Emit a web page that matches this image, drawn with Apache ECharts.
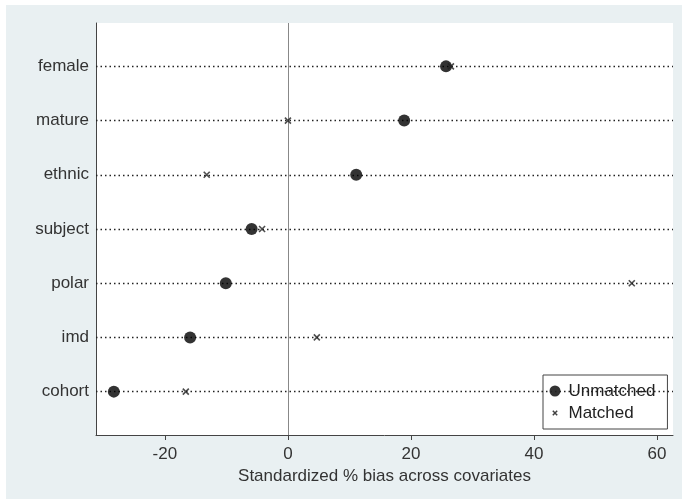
<!DOCTYPE html>
<html>
<head>
<meta charset="utf-8">
<script src="https://cdn.jsdelivr.net/npm/echarts@6/dist/echarts.min.js"></script>
<style>html,body{margin:0;padding:0;background:#fff}#c{width:682px;height:499px}</style>
</head>
<body>
<div id="c"></div>
<script>
// categories listed bottom to top
const categories = ['cohort', 'imd', 'polar', 'subject', 'ethnic', 'mature', 'female'];
const unmatched = [-28.3, -15.9, -10.1, -5.9, 11.1, 18.9, 25.7];
const matched = [-16.6, 4.7, 55.9, -4.2, -13.2, 0.0, 26.5];
const xTicks = [-20, 0, 20, 40, 60];
const xTitle = 'Standardized % bias across covariates';

const FONT = '"Liberation Sans", Arial, sans-serif';
const crossPath = 'path://M0,0L10,10M10,0L0,10';
const chart = echarts.init(document.getElementById('c'));
chart.setOption({
  backgroundColor: '#e9f0f2',
  animation: false,
  graphic: [
    {type: 'rect', shape: {x: 0, y: 0, width: 682, height: 5}, style: {fill: '#ffffff'}, z: -10, silent: true},
    {type: 'rect', shape: {x: 0, y: 0, width: 6, height: 499}, style: {fill: '#ffffff'}, z: -10, silent: true}
  ],
  grid: {left: 96, right: 9, top: 23, bottom: 64, show: true, backgroundColor: '#ffffff', borderWidth: 0},
  legend: {
    orient: 'vertical', left: 543, top: 375,
    backgroundColor: '#ffffff', borderColor: '#444', borderWidth: 1,
    padding: [6, 12, 6, 4], itemGap: 2, itemWidth: 11, itemHeight: 11,
    textStyle: {fontFamily: FONT, fontSize: 17, lineHeight: 20, color: '#222', padding: [0, 0, 0, 3]},
    data: [
      {name: 'Unmatched', icon: 'circle', itemStyle: {color: '#000'}},
      {name: 'Matched', icon: 'path://M0,0L0,0M10,10L10,10M3,3L7,7M7,3L3,7',
        itemStyle: {color: 'none', borderColor: '#111', borderWidth: 1.5}}
    ]
  },
  xAxis: {
    type: 'value', min: -31.2, max: 62.6,
    name: xTitle, nameLocation: 'middle', nameGap: 25,
    nameTextStyle: {fontFamily: FONT, fontSize: 17, color: '#333'},
    axisLine: {show: true, onZero: false, lineStyle: {color: '#444', width: 1}},
    axisTick: {show: true, length: 5, customValues: xTicks, lineStyle: {color: '#444'}},
    axisLabel: {customValues: xTicks, fontFamily: FONT, fontSize: 17, color: '#333', margin: 11},
    splitLine: {show: false}
  },
  yAxis: {
    type: 'value', min: -0.8, max: 6.8,
    axisLine: {show: true, onZero: false, lineStyle: {color: '#444', width: 1}},
    axisTick: {show: false},
    axisLabel: {customValues: categories.map((c, i) => i), formatter: v => categories[Math.round(v)] || '',
      fontFamily: FONT, fontSize: 17, color: '#333', margin: 7},
    splitLine: {show: false}
  },
  series: [
    {
      name: 'Unmatched', type: 'scatter', symbol: 'circle', symbolSize: 12,
      itemStyle: {color: '#000'}, z: 5,
      data: unmatched.map((v, i) => [v, i]),
      markLine: {
        silent: true, symbol: 'none', label: {show: false},
        lineStyle: {color: '#222', type: [1.5, 3], width: 1.3},
        data: categories.map((c, i) => ({yAxis: i}))
      }
    },
    {
      name: 'Matched', type: 'scatter', symbol: crossPath, symbolSize: 6,
      itemStyle: {color: 'none', borderColor: '#222', borderWidth: 1.6}, z: 6,
      data: matched.map((v, i) => [v, i]),
      markLine: {
        silent: true, symbol: 'none', label: {show: false},
        lineStyle: {color: '#888', type: 'solid', width: 1},
        data: [{xAxis: 0}]
      }
    }
  ]
});
</script>
</body>
</html>
